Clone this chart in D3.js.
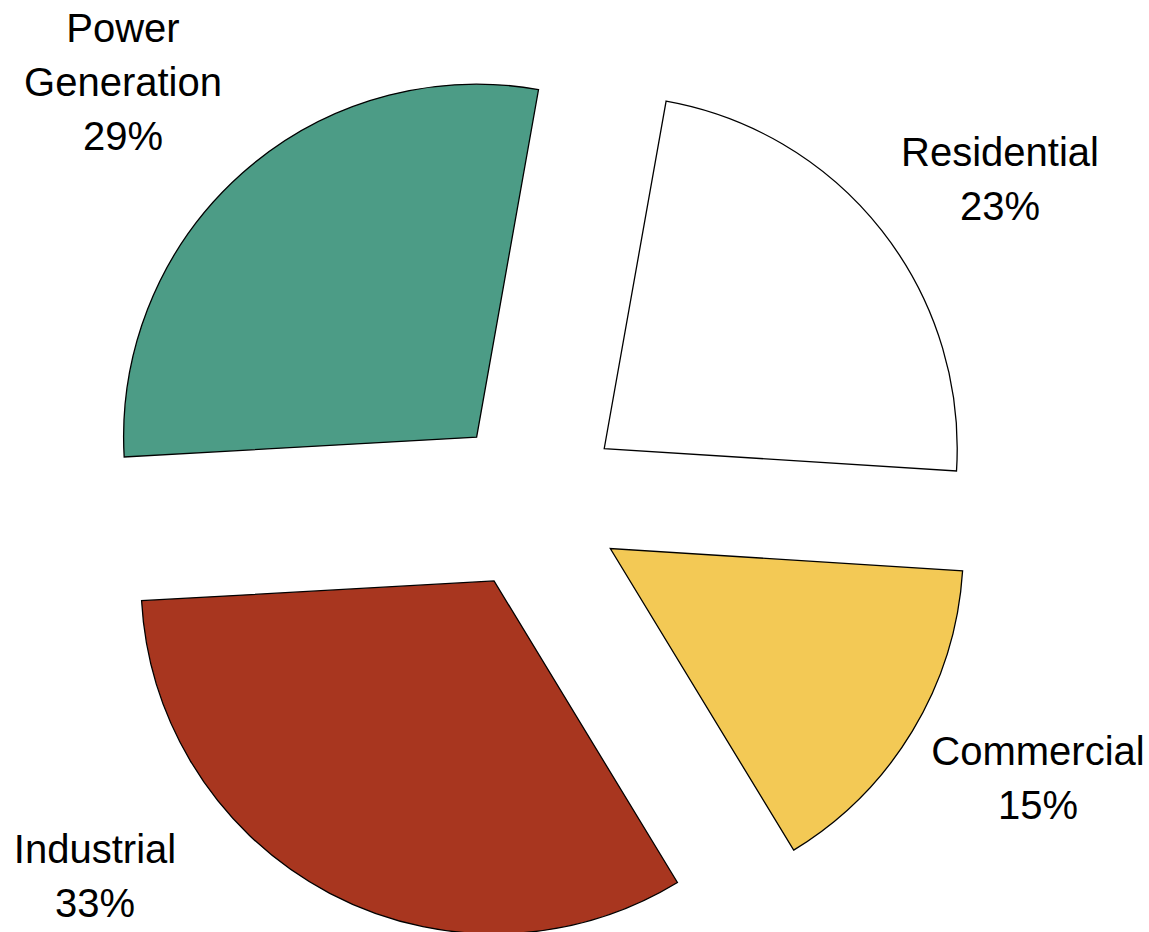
<!DOCTYPE html>
<html>
<head>
<meta charset="utf-8">
<script src="https://cdn.jsdelivr.net/npm/d3@7"></script>
<style>
  body { margin: 0; background: #fff; }
  svg text { font-family: "Liberation Sans", Arial, sans-serif; fill: #000; }
</style>
</head>
<body>
<div id="chart"></div>
<script>
// Data
const categories = ['Residential', 'Commercial', 'Industrial', 'Power Generation'];
const shares = [23.2, 15.3, 32.8, 28.7];
const colors = ['#ffffff', '#f3c955', '#a8361f', '#4c9c86'];
const labelLines = [['Residential'], ['Commercial'], ['Industrial'], ['Power', 'Generation']];

// layout
const width = 1149, height = 932;
const cx = 535, cy = 503;
const radius = 353;
const explode = 88;
const startAngle = 10.1 * Math.PI / 180;
const fontSize = 40, lineGap = 54;
// label anchor (centre x, first baseline y) per slice
const labelAnchors = [
    { x: 1000, y: 166 },
    { x: 1038, y: 765 },
    { x: 95, y: 863 },
    { x: 123, y: 42 }
];

const svg = d3.select('#chart').append('svg')
    .attr('width', width)
    .attr('height', height);

const pie = d3.pie()
    .sort(null)
    .value(d => d.value)
    .startAngle(startAngle)
    .endAngle(startAngle + 2 * Math.PI);

const arc = d3.arc()
    .innerRadius(0)
    .outerRadius(radius);

const data = categories.map((c, i) => ({ name: c, value: shares[i], color: colors[i], i: i }));
const arcs = pie(data);

const g = svg.append('g')
    .attr('transform', 'translate(' + cx + ',' + cy + ')');

g.selectAll('.slice')
    .data(arcs)
    .enter()
    .append('path')
    .attr('class', 'slice')
    .attr('transform', d => {
        const mid = (d.startAngle + d.endAngle) / 2;
        return 'translate(' + (explode * Math.sin(mid)) + ',' + (-explode * Math.cos(mid)) + ')';
    })
    .attr('d', arc)
    .style('fill', d => d.data.color)
    .style('stroke', '#000')
    .style('stroke-width', 1.3)
    .style('stroke-linejoin', 'miter');

// Labels: name lines then rounded percentage
arcs.forEach((d, i) => {
    const a = labelAnchors[i];
    const lines = labelLines[i].concat([Math.round(d.data.value) + '%']);
    const t = svg.append('text')
        .attr('text-anchor', 'middle')
        .style('font-size', fontSize + 'px');
    lines.forEach((ln, k) => {
        t.append('tspan')
            .attr('x', a.x)
            .attr('y', a.y + k * lineGap)
            .text(ln);
    });
});
</script>
</body>
</html>
